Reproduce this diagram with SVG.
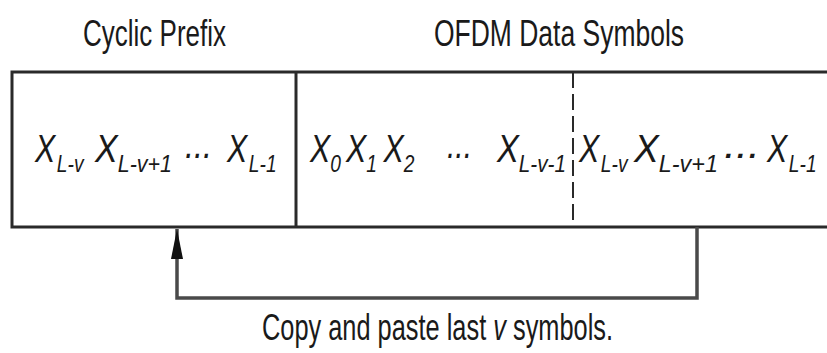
<svg xmlns="http://www.w3.org/2000/svg" width="827" height="353" viewBox="0 0 827 353">
<style>
.lbl{font-family:"Liberation Sans","Arial",sans-serif;font-size:36px;fill:#1a1a1a}
.sym{font-family:"Liberation Sans","Arial",sans-serif;font-size:38px;font-style:italic;fill:#1a1a1a}
.sub{font-size:24px}
.ln{stroke:#2a2a2a;stroke-width:3;fill:none}
.conn{stroke:#4a4a4a;stroke-width:3.5;fill:none}
</style>
<defs>
<marker id="ah" markerWidth="30" markerHeight="12" refX="30" refY="6" orient="auto" markerUnits="userSpaceOnUse" viewBox="0 0 30 12">
<path d="M0,0 L30,6 L0,12 Z" fill="#111"/>
</marker>
</defs>
<rect width="827" height="353" fill="#fff"/>
<g id="titles">
<text class="lbl" x="83" y="46" textLength="143" lengthAdjust="spacingAndGlyphs">Cyclic Prefix</text>
<text class="lbl" x="434" y="46" textLength="250" lengthAdjust="spacingAndGlyphs">OFDM Data Symbols</text>
</g>
<g id="frame">
<path class="ln" d="M827,72 H12 V227 H827"/>
</g>
<g id="cyclic-prefix">
<line class="ln" x1="296" y1="72" x2="296" y2="227"/>
<text class="sym" transform="translate(35,162) scale(0.8,1)">X<tspan class="sub" dx="2" dy="10">L-v</tspan></text>
<text class="sym" x="95" y="162" textLength="77" lengthAdjust="spacingAndGlyphs">X<tspan class="sub" dy="10">L-v+1</tspan></text>
<text class="sym" x="185" y="158" textLength="27" lengthAdjust="spacingAndGlyphs">...</text>
<text class="sym" transform="translate(227,162) scale(0.8,1)">X<tspan class="sub" dx="2" dy="10">L-1</tspan></text>
</g>
<g id="data-symbols">
<text class="sym" transform="translate(310,162) scale(0.8,1)"><tspan x="0" y="0">X</tspan><tspan class="sub" dy="10">0</tspan><tspan x="45" y="0">X</tspan><tspan class="sub" dy="10">1</tspan><tspan x="92" y="0">X</tspan><tspan class="sub" dy="10">2</tspan></text>
<text class="sym" x="447" y="158" textLength="25" lengthAdjust="spacingAndGlyphs">...</text>
<text class="sym" x="497" y="162" textLength="69" lengthAdjust="spacingAndGlyphs">X<tspan class="sub" dy="10">L-v-1</tspan></text>
</g>
<g id="last-symbols">
<line x1="573" y1="72" x2="573" y2="227" stroke="#2a2a2a" stroke-width="2" stroke-dasharray="16 6"/>
<text class="sym" transform="translate(579,162) scale(0.8,1)">X<tspan class="sub" dx="2" dy="10">L-v</tspan></text>
<text class="sym" x="634" y="162" textLength="84" lengthAdjust="spacingAndGlyphs">X<tspan class="sub" dy="10">L-v+1</tspan></text>
<text class="sym" x="724" y="158" textLength="36" lengthAdjust="spacingAndGlyphs">...</text>
<text class="sym" transform="translate(767,162) scale(0.8,1)">X<tspan class="sub" dx="2" dy="10">L-1</tspan></text>
</g>
<g id="connectors">
<path class="conn" d="M697,227 V298 H177 V229" marker-end="url(#ah)"/>
</g>
<g id="caption">
<text class="lbl" transform="translate(262,340) scale(0.705,1)">Copy and paste last <tspan font-style="italic">v</tspan> symbols.</text>
</g>
</svg>
